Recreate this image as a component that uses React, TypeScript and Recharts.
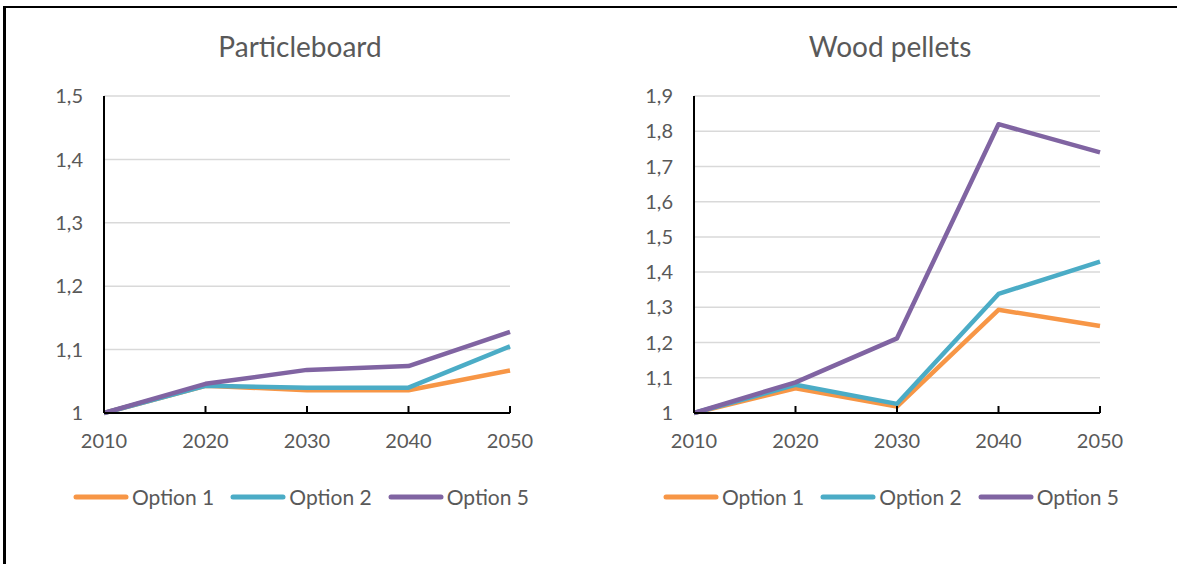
import React from 'react';
import { LineChart, Line, XAxis, YAxis, CartesianGrid, Legend } from 'recharts';

const years = ['2010', '2020', '2030', '2040', '2050'];

const particleOption1 = [1, 1.043, 1.036, 1.036, 1.067];
const particleOption2 = [1, 1.043, 1.04, 1.04, 1.105];
const particleOption5 = [1, 1.046, 1.068, 1.074, 1.128];

const pelletOption1 = [1, 1.07, 1.018, 1.293, 1.247];
const pelletOption2 = [1, 1.08, 1.026, 1.338, 1.43];
const pelletOption5 = [1, 1.087, 1.212, 1.82, 1.74];

const particleTicks = [1, 1.1, 1.2, 1.3, 1.4, 1.5];
const pelletTicks = [1, 1.1, 1.2, 1.3, 1.4, 1.5, 1.6, 1.7, 1.8, 1.9];

const seriesNames = ['Option 1', 'Option 2', 'Option 5'];
const seriesColors = ['#F79646', '#4BACC6', '#8064A2'];

const FONT = 'Lato, "Noto Sans", sans-serif';
const TEXT = '#595959';

function buildRows(o1: number[], o2: number[], o5: number[]) {
  return years.map((year, i) => ({ year, opt1: o1[i], opt2: o2[i], opt5: o5[i] }));
}

const fmt = (v: number) => (v === 1 ? '1' : v.toFixed(1).replace('.', ','));

const XTick = (props: any) => {
  const { x, y, payload } = props;
  return (
    <g>
      <line x1={x} x2={x} y1={y - 7} y2={y} stroke="#000" strokeWidth={2} />
      <text x={x} y={y + 35} textAnchor="middle" fill={TEXT} fontSize={20} fontFamily={FONT}>
        {payload.value}
      </text>
    </g>
  );
};

const LegendContent = () => (
  <div style={{ display: 'flex', justifyContent: 'center', alignItems: 'center', fontFamily: FONT, fontSize: 21, color: TEXT }}>
    {seriesNames.map((name, i) => (
      <div key={name} style={{ display: 'flex', alignItems: 'center', marginLeft: i === 0 ? 0 : 16 }}>
        <svg width={56} height={8} style={{ marginRight: 3 }}>
          <line x1={3} x2={53} y1={4} y2={4} stroke={seriesColors[i]} strokeWidth={5} strokeLinecap="round" />
        </svg>
        <span>{name}</span>
      </div>
    ))}
  </div>
);

interface PanelProps {
  title: string;
  rows: any[];
  ticks: number[];
  width: number;
  left: number;
}

function Panel({ title, rows, ticks, width, left }: PanelProps) {
  return (
    <div style={{ position: 'absolute', left, top: 0, width, height: 564 }}>
      <div
        style={{
          position: 'absolute',
          left: 0,
          top: 29,
          width: 600,
          textAlign: 'center',
          fontFamily: FONT,
          fontSize: 28,
          color: TEXT,
          lineHeight: '34px',
        }}
      >
        {title}
      </div>
      <LineChart width={width} height={564} data={rows} margin={{ top: 96, right: width - 510, bottom: 121, left: 40 }}>
        <CartesianGrid vertical={false} stroke="#d9d9d9" strokeWidth={1.5} />
        <XAxis
          dataKey="year"
          interval={0}
          height={30}
          tickSize={0}
          tickMargin={0}
          tickLine={false}
          axisLine={{ stroke: '#000', strokeWidth: 2 }}
          tick={<XTick />}
        />
        <YAxis
          width={64}
          domain={[ticks[0], ticks[ticks.length - 1]]}
          ticks={ticks}
          interval={0}
          tickFormatter={fmt}
          tickSize={0}
          tickMargin={21}
          tickLine={false}
          axisLine={{ stroke: '#000', strokeWidth: 2 }}
          tick={{ fill: TEXT, fontSize: 20, fontFamily: FONT }}
        />
        <Legend
          layout="horizontal"
          verticalAlign="middle"
          align="center"
          content={<LegendContent />}
          wrapperStyle={{ left: 0, top: 484, width: 602, height: 26 }}
        />
        {['opt1', 'opt2', 'opt5'].map((key, i) => (
          <Line
            key={key}
            type="linear"
            dataKey={key}
            name={seriesNames[i]}
            stroke={seriesColors[i]}
            strokeWidth={4.5}
            strokeLinejoin="round"
            dot={false}
            activeDot={false}
            isAnimationActive={false}
          />
        ))}
      </LineChart>
    </div>
  );
}

export default function App() {
  return (
    <div style={{ position: 'absolute', left: 0, top: 0, width: 1177, height: 564, background: '#fff', overflow: 'hidden' }}>
      <div style={{ position: 'absolute', left: 4, top: 6, width: 1173, height: 2, background: '#000' }} />
      <div style={{ position: 'absolute', left: 3, top: 6, width: 3, height: 558, background: '#000' }} />
      <Panel title="Particleboard" rows={buildRows(particleOption1, particleOption2, particleOption5)} ticks={particleTicks} width={600} left={0} />
      <Panel title="Wood pellets" rows={buildRows(pelletOption1, pelletOption2, pelletOption5)} ticks={pelletTicks} width={587} left={590} />
    </div>
  );
}
